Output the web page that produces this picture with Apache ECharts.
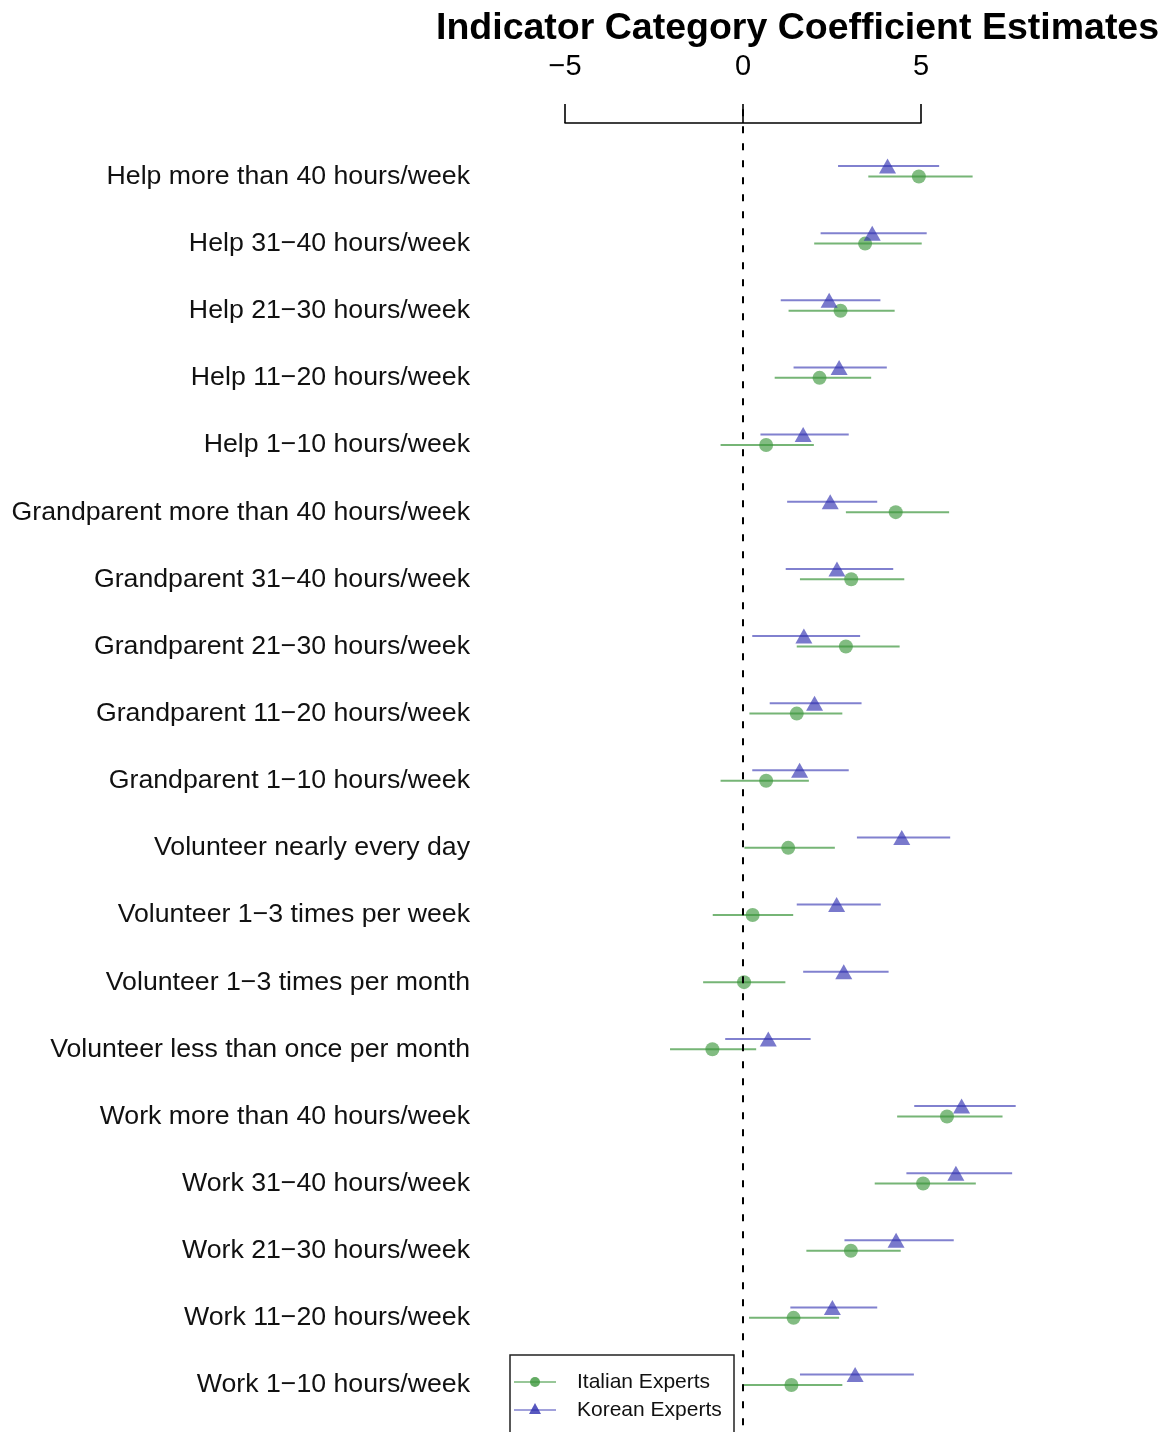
<!DOCTYPE html>
<html>
<head>
<meta charset="utf-8">
<script src="https://cdn.jsdelivr.net/npm/echarts@6/dist/echarts.min.js"></script>
<style>
  html, body { margin: 0; padding: 0; background: #fff; }
  #main { width: 1168px; height: 1432px; }
</style>
</head>
<body>
<div id="main"></div>
<script>
'use strict';

// row labels, top to bottom
var categories = [
    'Help more than 40 hours/week',
    'Help 31\u221240 hours/week',
    'Help 21\u221230 hours/week',
    'Help 11\u221220 hours/week',
    'Help 1\u221210 hours/week',
    'Grandparent more than 40 hours/week',
    'Grandparent 31\u221240 hours/week',
    'Grandparent 21\u221230 hours/week',
    'Grandparent 11\u221220 hours/week',
    'Grandparent 1\u221210 hours/week',
    'Volunteer nearly every day',
    'Volunteer 1\u22123 times per week',
    'Volunteer 1\u22123 times per month',
    'Volunteer less than once per month',
    'Work more than 40 hours/week',
    'Work 31\u221240 hours/week',
    'Work 21\u221230 hours/week',
    'Work 11\u221220 hours/week',
    'Work 1\u221210 hours/week'
];

// Italian experts: estimate and interval
var italianEst  = [4.94, 3.43, 2.74, 2.15, 0.65, 4.29, 3.04, 2.89, 1.51, 0.65, 1.27, 0.27, 0.03, -0.86, 5.73, 5.06, 3.03, 1.42, 1.36];
var italianLow  = [3.52, 2.00, 1.28, 0.89, -0.63, 2.89, 1.60, 1.51, 0.18, -0.63, 0.04, -0.85, -1.12, -2.05, 4.33, 3.70, 1.78, 0.17, -0.02];
var italianHigh = [6.45, 5.02, 4.26, 3.60, 1.99, 5.79, 4.53, 4.40, 2.79, 1.85, 2.58, 1.41, 1.19, 0.37, 7.29, 6.54, 4.43, 2.70, 2.79];

// Korean experts: estimate and interval
var koreanEst  = [4.06, 3.63, 2.42, 2.70, 1.69, 2.45, 2.64, 1.71, 2.01, 1.59, 4.46, 2.63, 2.83, 0.71, 6.14, 5.98, 4.30, 2.51, 3.15];
var koreanLow  = [2.67, 2.18, 1.06, 1.42, 0.49, 1.24, 1.20, 0.26, 0.75, 0.26, 3.20, 1.51, 1.69, -0.50, 4.81, 4.59, 2.85, 1.33, 1.60];
var koreanHigh = [5.51, 5.16, 3.86, 4.04, 2.97, 3.77, 4.22, 3.29, 3.33, 2.97, 5.82, 3.87, 4.09, 1.90, 7.66, 7.56, 5.92, 3.77, 4.80];

var xTicks = [-5, 0, 5];

var FONT = '"Liberation Sans", Arial, sans-serif';
var GREEN = 'rgba(60,150,60,0.8)';
var GREEN_LINE = 'rgba(60,150,60,0.7)';
var BLUE = 'rgba(45,45,175,0.8)';
var BLUE_LINE = 'rgba(45,45,175,0.6)';
var KOR_SHIFT = 0.155;   // korean row sits a bit above the italian one

var chart = echarts.init(document.getElementById('main'));

// build series data from the arrays
var itaPoints = [], itaBars = [], korPoints = [], korBars = [];
categories.forEach(function (c, i) {
    var row = i + 1;
    itaPoints.push([italianEst[i], row]);
    itaBars.push([italianLow[i], italianHigh[i], row]);
    korPoints.push([koreanEst[i], row - KOR_SHIFT]);
    korBars.push([koreanLow[i], koreanHigh[i], row - KOR_SHIFT]);
});

function barRenderer(color) {
    return function (params, api) {
        var a = api.coord([api.value(0), api.value(2)]);
        var b = api.coord([api.value(1), api.value(2)]);
        return {
            type: 'line',
            shape: { x1: a[0], y1: a[1], x2: b[0], y2: b[1] },
            style: { stroke: color, lineWidth: 2 }
        };
    };
}

var option = {
    backgroundColor: '#fff',
    animation: false,
    title: {
        text: 'Indicator Category Coefficient Estimates',
        left: 436,
        top: 10,
        padding: 0,
        textStyle: { fontFamily: FONT, fontSize: 37.5, fontWeight: 'bold', color: '#000' }
    },
    grid: {
        left: 565,
        right: 247,
        top: 109.3,
        bottom: 0
    },
    xAxis: {
        type: 'value',
        position: 'top',
        offset: -13.7,
        min: -5,
        max: 5,
        interval: 5,
        axisLine: { show: true, lineStyle: { color: '#000', width: 1.6 } },
        axisTick: { show: true, length: 19, lineStyle: { color: '#000', width: 1.6 } },
        axisLabel: {
            margin: 42,
            fontFamily: FONT,
            fontSize: 29,
            color: '#000',
            formatter: function (v) {
                if (xTicks.indexOf(v) < 0) return '';
                return v < 0 ? '\u2212' + Math.abs(v) : String(v);
            }
        },
        splitLine: { show: false }
    },
    yAxis: {
        type: 'value',
        inverse: true,
        min: 0,
        max: 19.7,
        interval: 1,
        axisLine: { show: false },
        axisTick: { show: false },
        splitLine: { show: false },
        axisLabel: {
            margin: 95,
            fontFamily: FONT,
            fontSize: 26.7,
            color: '#111',
            formatter: function (v) {
                if (!Number.isInteger(v)) return '';
                return categories[v - 1] || '';
            }
        }
    },
    series: [
        {
            name: 'Italian bars',
            type: 'custom',
            clip: false,
            renderItem: barRenderer(GREEN_LINE),
            encode: { x: [0, 1], y: 2 },
            data: itaBars,
            markLine: {
                silent: true,
                symbol: 'none',
                label: { show: false },
                lineStyle: { color: '#000', width: 2, type: [7, 10] },
                data: [{ xAxis: 0 }]
            }
        },
        {
            name: 'Korean bars',
            type: 'custom',
            clip: false,
            renderItem: barRenderer(BLUE_LINE),
            encode: { x: [0, 1], y: 2 },
            data: korBars
        },
        {
            name: 'Italian Experts',
            type: 'scatter',
            clip: false,
            symbol: 'circle',
            symbolSize: 14,
            itemStyle: { color: GREEN },
            data: itaPoints
        },
        {
            name: 'Korean Experts',
            type: 'scatter',
            clip: false,
            symbol: 'triangle',
            symbolSize: [17, 15],
            itemStyle: { color: BLUE },
            data: korPoints
        }
    ],
    // legend box, bottom left of the zero line
    graphic: [
        {
            type: 'rect',
            shape: { x: 510, y: 1355, width: 224, height: 90 },
            style: { fill: '#fff', stroke: '#222', lineWidth: 1.5 },
            z: 100
        },
        { type: 'line', shape: { x1: 514, y1: 1382, x2: 556, y2: 1382 }, style: { stroke: GREEN_LINE, lineWidth: 1.6 }, z: 101 },
        { type: 'circle', shape: { cx: 535, cy: 1382, r: 5 }, style: { fill: GREEN }, z: 101 },
        {
            type: 'text', x: 577, y: 1382, z: 101,
            style: { text: 'Italian Experts', font: '21px ' + FONT, fill: '#111', verticalAlign: 'middle' }
        },
        { type: 'line', shape: { x1: 514, y1: 1410, x2: 556, y2: 1410 }, style: { stroke: BLUE_LINE, lineWidth: 1.6 }, z: 101 },
        { type: 'polygon', shape: { points: [[535, 1403], [541, 1414], [529, 1414]] }, style: { fill: BLUE }, z: 101 },
        {
            type: 'text', x: 577, y: 1410, z: 101,
            style: { text: 'Korean Experts', font: '21px ' + FONT, fill: '#111', verticalAlign: 'middle' }
        }
    ]
};

chart.setOption(option);
</script>
</body>
</html>
